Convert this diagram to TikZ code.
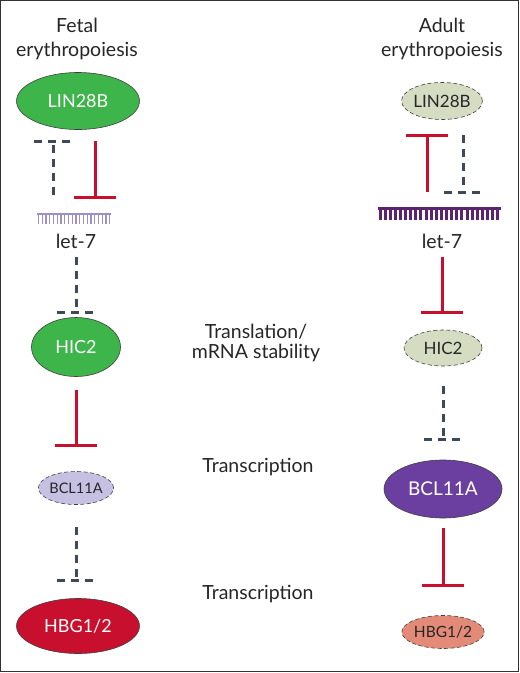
\documentclass[tikz,border=0pt]{standalone}
\usepackage{fontspec}
\setmainfont{Lato}
\usepackage{tikz}
\usetikzlibrary{shapes.geometric}
\definecolor{fetgreen}{HTML}{3DB54A}
\definecolor{palegreen}{HTML}{D4DDC2}
\definecolor{lavender}{HTML}{C6C0E2}
\definecolor{bclpurple}{HTML}{6A3FA0}
\definecolor{hbgred}{HTML}{C8102E}
\definecolor{salmon}{HTML}{E38A78}
\definecolor{dashgrey}{HTML}{3E4A59}
\definecolor{combpale}{HTML}{9D8FCB}
\definecolor{combdark}{HTML}{5B2370}
\tikzset{gene/.style={ellipse,inner sep=0pt,draw=black!75,line width=0.6pt},
 strong/.style={gene,font=\fontsize{18}{18}\selectfont,text=white},
 weak/.style={gene,dashed,dash pattern=on 4pt off 2.5pt,font=\fontsize{14.5}{14.5}\selectfont,text=black!85},
 caption/.style={align=center,font=\fontsize{19.5}{24}\selectfont,text=black!85},
 redinh/.style={draw=hbgred,line width=3pt,
   to path={-- (\tikztotarget) +(-21,0) -- +(21,0)}},
 greyinh/.style={draw=dashgrey,line width=3pt,dash pattern=on 8pt off 6pt,
   to path={-- (\tikztotarget) [dash pattern=on 8pt off 6pt on 10pt off 6pt on 8pt] +(-19,0) -- +(19,0)}},
 }

\begin{document}
\begin{tikzpicture}[x=1pt,y=-1pt]
        \useasboundingbox (0,0) rectangle (520,673);
        \draw [black!80, line width=1.2pt] (0.6,0.6) rectangle (518.6,671.6);
        % titles
        \node [caption] (fetal) at (77,39) {Fetal\\erythropoiesis};
        \node [caption] (adult) at (442,39) {Adult\\erythropoiesis};
        \node [caption, font=\fontsize{19.5}{20}\selectfont] (transl) at (256,343) {Translation/\\mRNA stability};
        \node [caption] (transc1) at (258,467) {Transcription};
        \node [caption] (transc2) at (258,594) {Transcription};
        % fetal side
        \node [strong, fill=fetgreen, minimum width=123pt, minimum height=57pt] (lin28f) at (78,101) {LIN28B};
        \draw [combpale, line width=1.3pt] (37,214) -- (111,214);
        \foreach \i in {0,...,19}
            \draw [combpale, line width=1.4pt] (38.5+\i*3.75,214) -- (38.5+\i*3.75,224);
        \node [caption] (let7f) at (76,241) {let-7};
        \node [strong, fill=fetgreen, minimum width=89pt, minimum height=59pt] (hic2f) at (76,347) {HIC2};
        \node [weak, fill=lavender, minimum width=72pt, minimum height=33pt] (bclf) at (76,488) {BCL11A};
        \node [strong, fill=hbgred, minimum width=123pt, minimum height=55pt] (hbgf) at (78,626) {HBG1/2};
        \draw [greyinh] ([shift={(-23,-46)}]let7f.center) to ([shift={(-25,40)}]lin28f.center);
        \draw [redinh] ([shift={(17,40)}]lin28f.center) to ([shift={(19,-44)}]let7f.center);
        \draw [greyinh] ([shift={(0,16)}]let7f.center) to ([shift={(0,-35)}]hic2f.center);
        \draw [redinh] ([shift={(0,43)}]hic2f.center) to ([shift={(0,-43)}]bclf.center);
        \draw [greyinh] ([shift={(0,39)}]bclf.center) to ([shift={(-2,-46)}]hbgf.center);
        % adult side
        \node [weak, fill=palegreen, minimum width=80pt, minimum height=37pt, font=\fontsize{17}{17}\selectfont] (lin28a) at (442,101) {LIN28B};
        \draw [combdark, line width=3pt] (378,208) -- (501,208);
        \foreach \i in {0,...,23}
            \draw [combdark, line width=3pt] (380+\i*5.12,208) -- (380+\i*5.12,220);
        \node [caption] (let7a) at (442,241) {let-7};
        \node [weak, fill=palegreen, minimum width=78pt, minimum height=36pt, font=\fontsize{17}{17}\selectfont] (hic2a) at (443,348) {HIC2};
        \node [strong, fill=bclpurple, minimum width=118pt, minimum height=58pt, font=\fontsize{19}{19}\selectfont] (bcla) at (443,489) {BCL11A};
        \node [weak, fill=salmon, minimum width=70pt, minimum height=33pt, font=\fontsize{15.5}{15.5}\selectfont] (hbga) at (443,632) {HBG1/2};
        \draw [redinh] ([shift={(-15,-49)}]let7a.center) to ([shift={(-15,34)}]lin28a.center);
        \draw [greyinh] ([shift={(21,34)}]lin28a.center) to ([shift={(21,-49)}]let7a.center);
        \draw [redinh] ([shift={(0,16)}]let7a.center) to ([shift={(-1,-36)}]hic2a.center);
        \draw [greyinh] ([shift={(0,38)}]hic2a.center) to ([shift={(0,-50)}]bcla.center);
        \draw [redinh] ([shift={(0,39)}]bcla.center) to ([shift={(0,-47)}]hbga.center);
    \end{tikzpicture}
\end{document}
